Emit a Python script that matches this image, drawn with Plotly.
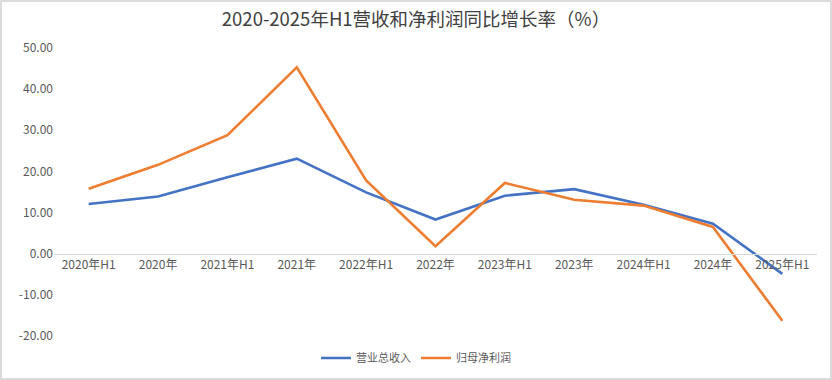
import plotly.graph_objects as go

categories = ["2020年H1", "2020年", "2021年H1", "2021年", "2022年H1", "2022年",
              "2023年H1", "2023年", "2024年H1", "2024年", "2025年H1"]
revenue_growth = [12.1, 13.9, 18.6, 23.1, 14.9, 8.3, 14.1, 15.7, 11.9, 7.3, -4.9]
profit_growth = [15.8, 21.6, 28.8, 45.3, 17.8, 1.8, 17.2, 13.1, 11.7, 6.5, -16.3]
y_tickvals = [-20, -10, 0, 10, 20, 30, 40, 50]
y_ticktext = ["-20.00", "-10.00", "0.00", "10.00", "20.00", "30.00", "40.00", "50.00"]

FONT = "Noto Sans CJK SC, PingFang SC, sans-serif"
W, H = 832, 380
ML, MR, MT, MB = 54, 15, 48, 44
PW, PH = W - ML - MR, H - MT - MB

fig = go.Figure()
fig.add_trace(go.Scatter(x=categories, y=revenue_growth, mode="lines", name="营业总收入",
                         line=dict(color="#4472C4", width=2.6)))
fig.add_trace(go.Scatter(x=categories, y=profit_growth, mode="lines", name="归母净利润",
                         line=dict(color="#ED7D31", width=2.6)))

fig.update_layout(
    width=W, height=H,
    margin=dict(l=ML, r=MR, t=MT, b=MB, autoexpand=False),
    paper_bgcolor="white", plot_bgcolor="white",
    font=dict(family=FONT, color="#595959", size=12),
    title=dict(text="2020-2025年H1营收和净利润同比增长率（%）", x=0.5, xanchor="center",
               y=1 - 20 / H, yanchor="middle", yref="container", automargin=False,
               font=dict(size=18.5, color="#404040", family=FONT)),
    xaxis=dict(type="category", range=[-0.5, 10.5], anchor="free", automargin=False,
               position=20 / 70, showline=True, linecolor="#D9D9D9", linewidth=1,
               showgrid=False, zeroline=False, ticks="", tickfont=dict(size=12, color="#595959")),
    yaxis=dict(range=[-20, 50], tickvals=y_tickvals, ticktext=y_ticktext, automargin=False,
               showgrid=False, zeroline=False, showline=False, ticks="",
               tickfont=dict(size=12, color="#595959")),
    showlegend=True,
    legend=dict(orientation="h", x=0.5, xanchor="center", xref="container",
                y=1 - 358 / H, yanchor="middle", yref="container",
                font=dict(size=11, color="#595959"), itemwidth=30, tracegroupgap=0),
    shapes=[dict(type="rect", xref="paper", yref="paper",
                 x0=(-ML + 1) / PW, x1=1 + (MR - 1) / PW,
                 y0=(-MB + 1) / PH, y1=1 + (MT - 1) / PH,
                 line=dict(color="#D0D0D0", width=1.5), layer="below")],
)

fig.write_html("out.html", config={"displayModeBar": False},
               post_script="document.body.style.margin='0';document.body.style.overflow='hidden';")
